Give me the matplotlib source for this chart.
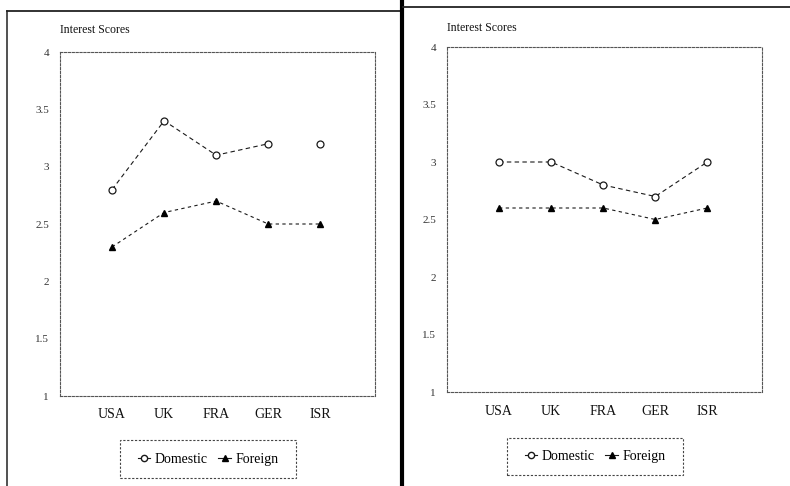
import matplotlib
matplotlib.use("Agg")
import matplotlib.pyplot as plt
from matplotlib.lines import Line2D
from matplotlib.patches import Rectangle

countries = ["USA", "UK", "FRA", "GER", "ISR"]
left_domestic = [2.8, 3.4, 3.1, 3.2, 3.2]
left_foreign = [2.3, 2.6, 2.7, 2.5, 2.5]
right_domestic = [3.0, 3.0, 2.8, 2.7, 3.0]
right_foreign = [2.6, 2.6, 2.6, 2.5, 2.6]
yticks = [1, 1.5, 2, 2.5, 3, 3.5, 4]
ytick_labels = ["1", "1.5", "2", "2.5", "3", "3.5", "4"]
title = "Interest Scores"
series_names = ["Domestic", "Foreign"]
# number of leading points joined by the line (left Domestic line stops at GER)
left_domestic_joined = 4

serif = ["Liberation Serif", "DejaVu Serif"]
W, H = 790, 486
fig = plt.figure(figsize=(W / 100, H / 100), dpi=100)
fig.patch.set_facecolor("white")

def fx(px):
    return px / W

def fy(py):
    return 1 - py / H

ink = "#1a1a1a"

def make_panel(x0, x1, ytop, ybot, dom, forn, dom_joined, title_y, legend_box):
    ax = fig.add_axes([fx(x0), fy(ybot), fx(x1 - x0), fy(ytop) - fy(ybot)])
    x = list(range(len(countries)))
    ax.plot(x[:dom_joined], dom[:dom_joined], linestyle=(0, (4, 3)), color=ink, lw=0.8)
    ax.plot(x, dom, linestyle="none", marker="o", ms=5, mfc="white", mec=ink, mew=0.9)
    ax.plot(x, forn, linestyle=(0, (3, 3)), color=ink, lw=0.8,
            marker="^", ms=5, mfc="black", mec="black")
    ax.set_xlim(-1, 5.05)
    ax.set_ylim(1, 4)
    ax.set_xticks(x)
    ax.set_xticklabels(countries, family=serif, fontsize=10, color="#111111")
    ax.set_yticks(yticks)
    ax.set_yticklabels(ytick_labels, family=serif, fontsize=8, color="#333333")
    ax.tick_params(axis="both", length=0)
    ax.tick_params(axis="x", pad=9)
    ax.tick_params(axis="y", pad=8)
    for s in ax.spines.values():
        s.set_linestyle((0, (2, 1.5)))
        s.set_linewidth(0.8)
        s.set_edgecolor("#555555")
    fig.text(fx(x0), fy(title_y), title, family=serif,
             fontsize=8.5, color="#111111", va="center", ha="left")
    # legend box
    lx0, ly0, lx1, ly1 = legend_box
    handles = [
        Line2D([], [], color=ink, lw=0.8, marker="o", ms=4.5, mfc="white", mec=ink),
        Line2D([], [], color=ink, lw=0.8, marker="^", ms=4.5, mfc="black", mec="black"),
    ]
    fig.legend(handles, series_names, loc="center",
               bbox_to_anchor=(fx((lx0 + lx1) / 2), fy((ly0 + ly1) / 2)),
               ncol=2, prop={"family": serif, "size": 10},
               handlelength=0.9, handletextpad=0.3, columnspacing=0.8,
               frameon=False)
    fig.patches.append(Rectangle((fx(lx0), fy(ly1)), fx(lx1 - lx0), fy(ly0) - fy(ly1),
                                 transform=fig.transFigure, fill=False,
                                 ec="#444444", lw=0.8, ls=(0, (2, 1.5))))
    return ax

make_panel(60, 375, 52, 396, left_domestic, left_foreign, left_domestic_joined,
           30, (120, 440, 296, 478))
make_panel(447, 762, 47, 392, right_domestic, right_foreign, len(countries),
           28, (507, 438, 683, 475))

# panel frames
fig.add_artist(Line2D([fx(7), fx(400)], [fy(11), fy(11)], color="#222222", lw=1.3))
fig.add_artist(Line2D([fx(7), fx(7)], [fy(11), fy(486)], color="#222222", lw=1.1))
fig.add_artist(Line2D([fx(401.5), fx(401.5)], [0, 1], color="black", lw=3))
fig.add_artist(Line2D([fx(403), fx(790)], [fy(7), fy(7)], color="#222222", lw=1.3))

fig.savefig("out.png", dpi=100, facecolor="white")
